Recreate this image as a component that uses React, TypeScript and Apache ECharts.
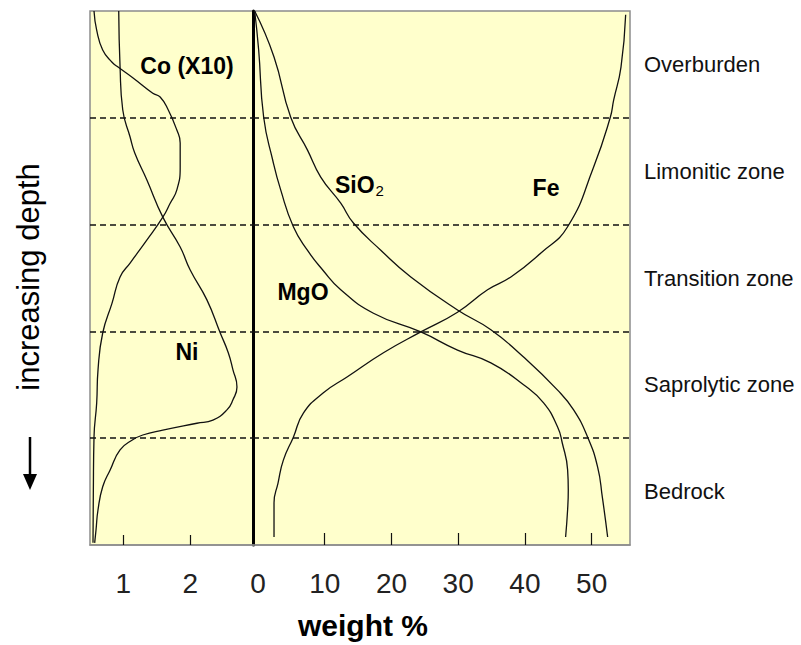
import React, { useEffect, useRef } from "react";
import * as echarts from "echarts";

// Zones (depth axis runs 0 = surface to 100 = deepest)
const zoneNames = ["Overburden", "Limonitic zone", "Transition zone", "Saprolytic zone", "Bedrock"];
const zoneMidDepths = [10, 30, 50, 70, 90];
const zoneBoundaries = [20, 40, 60, 80];

// Tick labels
const leftTicks = [1, 2];
const rightTickLabels = [0, 10, 20, 30, 40, 50];
const rightTickMarks = [10, 20, 30, 40, 50];

// Left panel: [weight %, depth]
const coX10: number[][] = [
  [0.56, 0], [0.6, 3.6], [0.69, 7.3], [0.83, 9.6], [0.92, 10.5], [1.14, 12.5], [1.44, 15.4],
  [1.55, 16.1], [1.67, 18.5], [1.8, 22.3], [1.85, 24.7], [1.85, 29.2], [1.8, 33.5], [1.7, 36.0],
  [1.59, 38.6], [1.35, 42.9], [1.1, 47.2], [0.95, 49.8], [0.83, 54.7], [0.69, 60.3], [0.62, 67.2],
  [0.6, 73.4], [0.56, 79.8], [0.55, 90], [0.545, 99.6],
];
const ni: number[][] = [
  [0.93, 0], [0.95, 10.5], [0.99, 18.5], [1.1, 23.6], [1.17, 26.6], [1.35, 31.6], [1.59, 38.6],
  [1.85, 44.2], [2.0, 48.5], [2.25, 54.1], [2.45, 60.3], [2.57, 64.0], [2.64, 67.2], [2.7, 70.4],
  [2.64, 72.8], [2.55, 74.7], [2.34, 76.6], [2.1, 77.2], [1.59, 78.5], [1.29, 79.4], [1.14, 80.3],
  [0.95, 82.2], [0.8, 86.0], [0.69, 89.1], [0.62, 93.4], [0.59, 97.2], [0.57, 99.6],
];

// Right panel: [weight %, depth]
const mgo: number[][] = [
  [-0.5, 0], [0.1, 7.3], [0.85, 19.9], [2.2, 27.9], [3.4, 33.5], [5.3, 40.4], [7.4, 44.8],
  [9.7, 48.5], [12.4, 52.2], [17.3, 56.6], [24.4, 60.1], [29.9, 63.5], [34.9, 65.9], [39.8, 70.0],
  [42.8, 73.4], [44.9, 77.9], [45.6, 80.9], [46.4, 85.9], [46.5, 89.7], [46.4, 93.4], [46.1, 98.5],
];
const sio2: number[][] = [
  [-0.5, 0], [2.4, 8.6], [4.9, 19.9], [7.4, 26.0], [9.4, 31.1], [12.4, 36.0], [14.3, 39.7],
  [18.4, 44.8], [22.9, 49.8], [29.9, 56.0], [34.9, 59.7], [39.8, 64.8], [44.9, 71.0], [47.3, 74.7],
  [49.4, 79.8], [50.9, 85.4], [51.6, 91.0], [52.4, 98.5],
];
const fe: number[][] = [
  [55.1, 0.7], [54.4, 10.5], [53.3, 16.7], [52.8, 19.9], [50.3, 29.2], [46.4, 40.4], [42.4, 45.3],
  [37.9, 49.8], [34.4, 52.2], [29.9, 56.4], [24.4, 60.1], [18.8, 64.0], [13.4, 68.5], [9.8, 71.5],
  [6.8, 75.3], [5.3, 79.8], [3.8, 84.1], [3.0, 88.4], [2.4, 92.1], [2.4, 98.5],
];

const FONT = "'Liberation Sans', Arial, sans-serif";

function curve(name: string, data: number[][], xi: number, withZones: boolean) {
  const s: any = {
    name,
    type: "line",
    xAxisIndex: xi,
    yAxisIndex: xi,
    data,
    smooth: 0.5,
    showSymbol: false,
    symbol: "none",
    silent: true,
    lineStyle: { color: "#111", width: 1.3 },
  };
  if (withZones) {
    s.markLine = {
      silent: true,
      symbol: "none",
      label: { show: false },
      lineStyle: { color: "#111", width: 1.6, type: [6, 4] },
      data: zoneBoundaries.map((v) => ({ yAxis: v })),
    };
  }
  return s;
}

export default function App() {
  const ref = useRef<HTMLDivElement>(null);
  useEffect(() => {
    if (!ref.current) return;
    const chart = echarts.init(ref.current, null, { renderer: "svg" });
    const gridCommon = {
      top: 11,
      height: 534,
      show: true,
      backgroundColor: "#FFFFCC",
      borderColor: "#8c8c8c",
      borderWidth: 1.5,
    };
    const depthAxis = (gi: number, extra: any = {}) => ({
      type: "value",
      gridIndex: gi,
      inverse: true,
      min: 0,
      max: 100,
      axisLabel: { show: false },
      axisTick: { show: false },
      splitLine: { show: false },
      axisLine: { show: false },
      ...extra,
    });
    const option: any = {
      animation: false,
      backgroundColor: "#ffffff",
      grid: [
        { ...gridCommon, left: 90, width: 163 },
        { ...gridCommon, left: 253, width: 377 },
      ],
      xAxis: [
        {
          type: "value",
          gridIndex: 0,
          min: 0.5,
          max: 2.94,
          splitLine: { show: false },
          axisLine: { show: true, onZero: false, lineStyle: { color: "#8c8c8c", width: 1.5 } },
          axisTick: { show: true, inside: true, length: 10, customValues: leftTicks, lineStyle: { color: "#111", width: 1.2 } },
          axisLabel: { customValues: leftTicks, fontSize: 28, margin: 24, color: "#222", fontFamily: FONT },
        },
        {
          type: "value",
          gridIndex: 1,
          min: -0.75,
          max: 55.75,
          splitLine: { show: false },
          axisLine: { show: true, onZero: false, lineStyle: { color: "#8c8c8c", width: 1.5 } },
          axisTick: { show: true, inside: true, length: 12, customValues: rightTickMarks, lineStyle: { color: "#111", width: 1.2 } },
          axisLabel: { customValues: rightTickLabels, fontSize: 28, margin: 24, color: "#222", fontFamily: FONT },
        },
      ],
      yAxis: [
        depthAxis(0),
        depthAxis(1, { axisLine: { show: true, onZero: false, lineStyle: { color: "#000", width: 3 } } }),
        depthAxis(1, {
          position: "right",
          axisLabel: {
            show: true,
            customValues: zoneMidDepths,
            formatter: (v: number) => zoneNames[zoneMidDepths.indexOf(v)] ?? "",
            fontSize: 22,
            margin: 14,
            color: "#111",
            fontFamily: FONT,
          },
        }),
      ],
      series: [
        curve("Co (X10)", coX10, 0, true),
        curve("Ni", ni, 0, false),
        curve("MgO", mgo, 1, true),
        curve("SiO2", sio2, 1, false),
        curve("Fe", fe, 1, false),
      ],
      graphic: [
        { type: "text", x: 187, y: 66, style: { text: "Co (X10)", fontSize: 23, fontWeight: "bold", fontFamily: FONT, fill: "#000", textAlign: "center", textVerticalAlign: "middle" } },
        { type: "text", x: 187, y: 352, style: { text: "Ni", fontSize: 23, fontWeight: "bold", fontFamily: FONT, fill: "#000", textAlign: "center", textVerticalAlign: "middle" } },
        { type: "text", x: 303, y: 292, style: { text: "MgO", fontSize: 23, fontWeight: "bold", fontFamily: FONT, fill: "#000", textAlign: "center", textVerticalAlign: "middle" } },
        { type: "text", x: 546, y: 188, style: { text: "Fe", fontSize: 23, fontWeight: "bold", fontFamily: FONT, fill: "#000", textAlign: "center", textVerticalAlign: "middle" } },
        {
          type: "text", x: 335, y: 185,
          style: {
            text: "{a|SiO}{b|2}",
            textAlign: "left",
            textVerticalAlign: "middle",
            rich: {
              a: { fontSize: 23, fontWeight: "bold", fontFamily: FONT, fill: "#000", lineHeight: 26 },
              b: { fontSize: 15, fontFamily: FONT, fill: "#000", verticalAlign: "bottom", lineHeight: 15, padding: [0, 0, 0, 1] },
            },
          },
        },
        { type: "text", x: 363, y: 625, style: { text: "weight %", fontSize: 30, fontWeight: "bold", fontFamily: FONT, fill: "#000", textAlign: "center", textVerticalAlign: "middle" } },
        { type: "text", x: 28, y: 277, rotation: Math.PI / 2, style: { text: "increasing depth", fontSize: 31, fontFamily: FONT, fill: "#000", textAlign: "center", textVerticalAlign: "middle" } },
        { type: "line", shape: { x1: 30, y1: 437, x2: 30, y2: 478 }, style: { stroke: "#000", lineWidth: 2.5 } },
        { type: "polygon", shape: { points: [[23, 474], [37, 474], [30, 490]] }, style: { fill: "#000" } },
      ],
    };
    chart.setOption(option);
    return () => chart.dispose();
  }, []);
  return <div ref={ref} style={{ position: "absolute", left: 0, top: 0, width: 801, height: 645 }} />;
}
